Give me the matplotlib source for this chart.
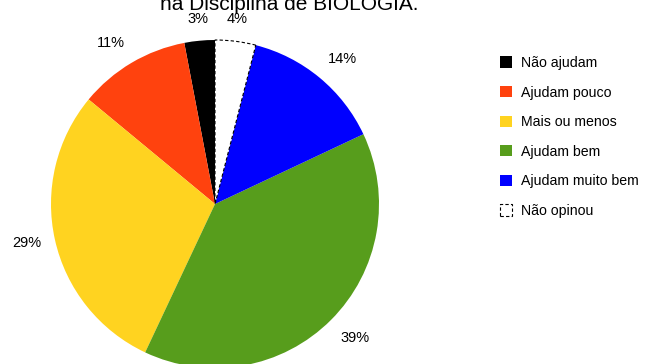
import matplotlib
matplotlib.use('Agg')
import matplotlib.pyplot as plt
import numpy as np

plt.rcParams['font.family'] = ['Liberation Sans', 'DejaVu Sans']

labels = ['Não ajudam', 'Ajudam pouco', 'Mais ou menos', 'Ajudam bem', 'Ajudam muito bem', 'Não opinou']
values = [3, 11, 29, 39, 14, 4]
colors = ['#000000', '#FF420E', '#FFD320', '#579D1C', '#0000FF', '#FFFFFF']

W, H = 645, 364
fig = plt.figure(figsize=(W / 100, H / 100), dpi=100)

# pie centre (215, 204) px, radius 164 px
cx, cy, r = 215, 204, 164
ax = fig.add_axes([(cx - r) / W, (H - cy - r) / H, 2 * r / W, 2 * r / H])

wedges, texts = ax.pie(values, colors=colors, startangle=90, counterclock=True,
                       labels=[f'{v}%' for v in values], labeldistance=1.15,
                       textprops={'fontsize': 10.5, 'color': '#000000'},
                       wedgeprops={'linewidth': 0})

# place labels like the office chart: anchor point just outside the rim,
# label box hangs off it away from the pie
gap, hw, hh = 15 / r, 13 / r, 7 / r
for w, t in zip(wedges, texts):
    a = np.deg2rad((w.theta1 + w.theta2) / 2)
    c, s = np.cos(a), np.sin(a)
    ox = hw * np.sign(c) if abs(c) > 0.3 else 0
    oy = hh * np.sign(s) if abs(s) > 0.3 else 0
    t.set_position(((1 + gap) * c + ox, (1 + gap) * s + oy))
    t.set_ha('center')
    t.set_va('center')

# "Não opinou" slice: white with dashed outline
wedges[-1].set_edgecolor('black')
wedges[-1].set_linewidth(0.8)
wedges[-1].set_linestyle((0, (3, 2)))

ax.set_xlim(-1, 1)
ax.set_ylim(-1, 1)
ax.set_aspect('equal')
ax.axis('off')

fig.text(289 / W, 1 - 10 / H, 'na Disciplina de BIOLOGIA.', ha='center', va='baseline', fontsize=15)

leg = fig.legend(wedges, labels, loc='upper left', bbox_to_anchor=(500 / W, 1 - 56 / H),
                 frameon=False, fontsize=10.2, handlelength=0.85, handleheight=0.85,
                 handletextpad=0.6, labelspacing=1.1, borderpad=0, borderaxespad=0)

fig.savefig('out.png', dpi=100)
